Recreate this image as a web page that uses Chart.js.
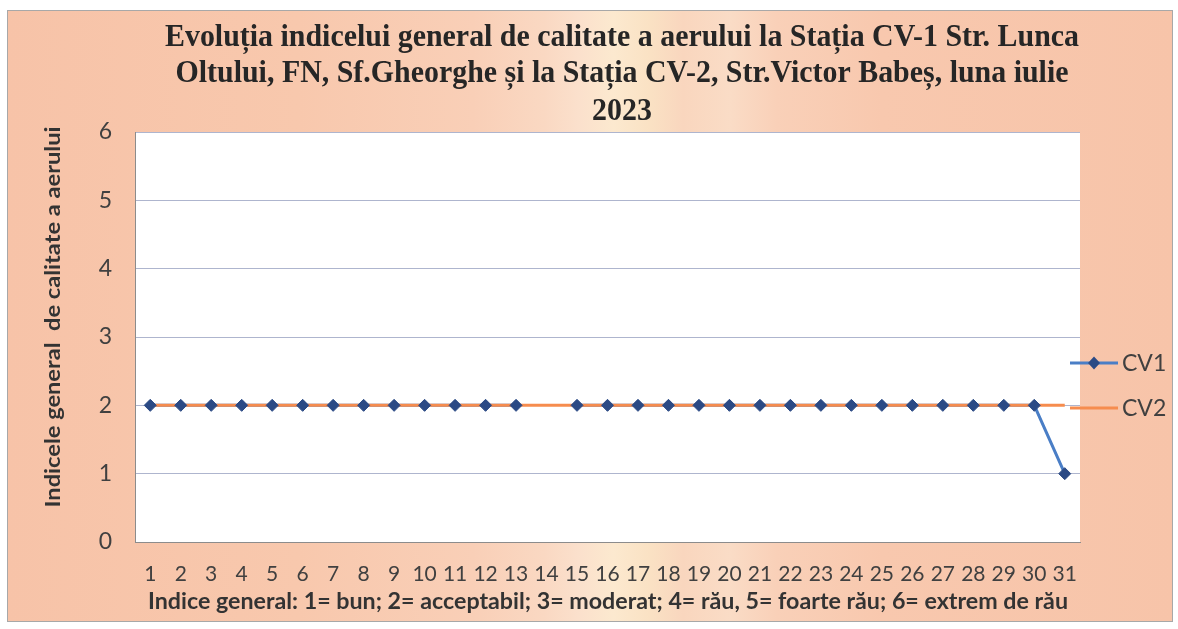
<!DOCTYPE html>
<html><head><meta charset="utf-8">
<script src="https://cdn.jsdelivr.net/npm/chart.js@4/dist/chart.umd.min.js"></script>
<style>html,body{margin:0;padding:0;background:#fff;}#wrap{width:1178px;height:629px;}</style>
</head><body><div id="wrap"><canvas id="c" width="1178" height="629"></canvas></div>
<script>
const days = ['1','2','3','4','5','6','7','8','9','10','11','12','13','14','15','16','17','18','19','20','21','22','23','24','25','26','27','28','29','30','31'];
const cv1 = [2,2,2,2,2,2,2,2,2,2,2,2,2,null,2,2,2,2,2,2,2,2,2,2,2,2,2,2,2,2,1];
const cv2 = [2,2,2,2,2,2,2,2,2,2,2,2,2,2,2,2,2,2,2,2,2,2,2,2,2,2,2,2,2,2,2];
const seriesNames = ['CV1','CV2'];
const yMin = 0, yMax = 6, yStep = 1;
const titleLines = ['Evoluția indicelui general de calitate a aerului la Stația CV-1 Str. Lunca','Oltului, FN, Sf.Gheorghe și la Stația CV-2, Str.Victor Babeș, luna iulie','2023'];
const yTitle = 'Indicele general  de calitate a aerului';
const xTitle = 'Indice general: 1= bun; 2= acceptabil; 3= moderat; 4= rău, 5= foarte rău; 6= extrem de rău';

const BLUE = '#4A7EC6', NAVY = '#2B4A85', ORANGE = '#F68C4E', TXT = '#404040';

function drawFit(ctx, text, x, y, font, scale, rot){
  ctx.save();
  ctx.font = font;
  ctx.translate(x, y);
  if (rot) ctx.rotate(rot);
  ctx.scale(scale, 1);
  ctx.textAlign = 'center';
  ctx.textBaseline = 'alphabetic';
  ctx.fillText(text, 0, 0);
  ctx.restore();
}
function fitScale(ctx, text, font, target){
  ctx.save(); ctx.font = font; const w = ctx.measureText(text).width; ctx.restore();
  return Math.max(0.7, Math.min(1.25, target / w));
}

const deco = {
  id: 'deco',
  beforeDraw(chart){
    const {ctx, chartArea: a} = chart;
    ctx.save();
    ctx.fillStyle = '#fff'; ctx.fillRect(0, 0, 1178, 629);
    const g = ctx.createLinearGradient(7, 0, 1173, 0);
    g.addColorStop(0, '#F7C3A8');
    g.addColorStop(0.25, '#F8C8AD');
    g.addColorStop(0.40, '#F9CFB7');
    g.addColorStop(0.46, '#FAD8C2');
    g.addColorStop(0.49, '#FBE0CC');
    g.addColorStop(0.52, '#FCE9CF');
    g.addColorStop(0.55, '#FAE2C4');
    g.addColorStop(0.58, '#F9D6BE');
    g.addColorStop(0.62, '#FADCC6');
    g.addColorStop(0.66, '#F9D0B8');
    g.addColorStop(0.75, '#F8C8AE');
    g.addColorStop(1, '#F7C4A9');
    ctx.fillStyle = g; ctx.fillRect(7, 10, 1166, 611);
    ctx.strokeStyle = '#A8A8A8'; ctx.lineWidth = 1; ctx.strokeRect(7.5, 10.5, 1165, 611);
    ctx.fillStyle = '#fff'; ctx.fillRect(a.left, a.top, a.right - a.left, a.bottom - a.top);
    ctx.restore();
  },
  afterDraw(chart){
    const ctx = chart.ctx;
    ctx.save();
    ctx.fillStyle = '#262626';
    const tf = 'bold 31px "Liberation Serif", "Times New Roman", serif';
    const ts = fitScale(ctx, titleLines[0], tf, 914);
    const tb = [46, 82, 120];
    titleLines.forEach((t, i) => drawFit(ctx, t, 622, tb[i], tf, ts));
    ctx.fillStyle = '#333333';
    const yf = 'bold 21px Lato, sans-serif';
    drawFit(ctx, yTitle, 60, 317, yf, fitScale(ctx, yTitle, yf, 381), -Math.PI / 2);
    const xf = 'bold 22px Lato, sans-serif';
    drawFit(ctx, xTitle, 608, 609, xf, fitScale(ctx, xTitle, xf, 920));
    const items = [
      {name: seriesNames[0], y: 363, line: BLUE, marker: true},
      {name: seriesNames[1], y: 408, line: ORANGE, marker: false}
    ];
    items.forEach(it => {
      ctx.strokeStyle = it.line; ctx.lineWidth = 3;
      ctx.beginPath(); ctx.moveTo(1070, it.y); ctx.lineTo(1118, it.y); ctx.stroke();
      if (it.marker) {
        ctx.fillStyle = NAVY;
        ctx.beginPath(); ctx.moveTo(1094, it.y - 6.5); ctx.lineTo(1100, it.y); ctx.lineTo(1094, it.y + 6.5); ctx.lineTo(1088, it.y); ctx.closePath(); ctx.fill();
      }
      ctx.fillStyle = TXT; ctx.font = '23px Lato, sans-serif';
      ctx.textAlign = 'left'; ctx.textBaseline = 'middle';
      ctx.fillText(it.name, 1122, it.y + 1);
    });
    ctx.restore();
  }
};

new Chart(document.getElementById('c'), {
  type: 'line',
  data: {
    labels: days,
    datasets: [
      {label: seriesNames[0] + ' markers', data: cv1, showLine: false, pointStyle: 'rectRot', pointRadius: 6, pointBackgroundColor: NAVY, pointBorderColor: NAVY, pointBorderWidth: 1, order: 0},
      {label: seriesNames[1], data: cv2, borderColor: ORANGE, borderWidth: 3, pointRadius: 0, fill: false, order: 1},
      {label: seriesNames[0], data: cv1, borderColor: BLUE, borderWidth: 3, pointRadius: 0, fill: false, spanGaps: false, order: 2}
    ]
  },
  options: {
    responsive: false,
    animation: false,
    devicePixelRatio: 1,
    layout: {padding: {left: 7, right: 98, top: 132, bottom: 7}},
    plugins: {legend: {display: false}, tooltip: {enabled: false}, title: {display: false}},
    scales: {
      x: {
        offset: true,
        grid: {display: false, drawTicks: false},
        border: {display: true, color: '#8C8C8C', width: 1},
        ticks: {font: {family: 'Lato', size: 21}, color: TXT, padding: 20, maxRotation: 0, autoSkip: false},
        afterFit(s){ s.height = 80; }
      },
      y: {
        min: yMin, max: yMax,
        ticks: {stepSize: yStep, font: {family: 'Lato', size: 23}, color: TXT, padding: 23},
        grid: {color: '#AEB5CE', lineWidth: 1, drawTicks: false},
        border: {display: true, color: '#8C8C8C', width: 1},
        afterFit(s){ s.width = 128; }
      }
    }
  },
  plugins: [deco]
});
</script>
</body></html>
